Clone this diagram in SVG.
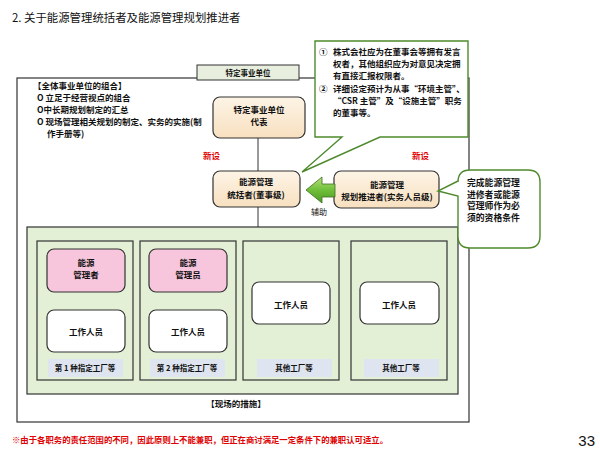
<svg xmlns="http://www.w3.org/2000/svg" width="600" height="450" viewBox="0 0 600 450">
<defs>
<linearGradient id="beige" x1="0" y1="0" x2="0" y2="1">
<stop offset="0" stop-color="#fdf4e6"/><stop offset="1" stop-color="#f8e0c0"/>
</linearGradient>
<linearGradient id="arrowG" x1="0" y1="0" x2="0" y2="1">
<stop offset="0" stop-color="#b6e07a"/><stop offset="0.5" stop-color="#6fbf3a"/><stop offset="1" stop-color="#4c9a25"/>
</linearGradient>
<style>
text{font-family:"Noto Sans CJK SC","Liberation Sans",sans-serif;fill:#111;}
.t{font-size:8.5px;font-weight:bold;}
.c{text-anchor:middle;}
.sm{font-size:7.5px;font-weight:bold;}
.red{fill:#e00000;font-weight:bold;font-size:8.5px;}
.q{font-size:8.8px;font-weight:bold;}
.box{fill:url(#beige);stroke:#333;stroke-width:1.2;}
.pink{fill:#f7c6dd;stroke:#333;stroke-width:1.2;}
.white{fill:#fff;stroke:#333;stroke-width:1.2;}
.panel{fill:#e3f0d6;stroke:#333;stroke-width:1.2;}
.band{fill:#dfe5f0;}
.line{stroke:#333;stroke-width:1;fill:none;}
.call{fill:#fff;stroke:#4e8a2c;stroke-width:1.4;}
</style>
</defs>
<rect width="600" height="450" fill="#fff"/>

<text x="12" y="22" style="font-size:11.4px;">2. 关于能源管理统括者及能源管理规划推进者</text>

<g id="outer">
<rect x="17" y="78" width="452" height="344" fill="#fff" stroke="#333" stroke-width="1.2"/>
</g>

<g id="unit-top">
<rect x="197" y="65" width="102" height="15" fill="#e8efdf" stroke="#333" stroke-width="1"/>
<text x="248" y="76" class="sm c">特定事业单位</text>
</g>

<g id="whole-org">
<text x="33" y="89" class="t">【全体事业单位的组合】</text>
<text x="37" y="101" class="t">O 立足于经营视点的组合</text>
<text x="37" y="113" class="t">O中长期规划制定的汇总</text>
<text x="37" y="125" class="t">O 现场管理相关规划的制定、实务的实施(制</text>
<text x="47" y="137" class="t">作手册等)</text>
</g>

<g id="field-panel">
<rect x="27" y="227" width="431" height="167" class="panel"/>
</g>

<g id="connectors">
<line x1="258" y1="138" x2="258" y2="171" class="line"/>
<line x1="258" y1="207" x2="258" y2="227" class="line"/>
<line x1="86" y1="292" x2="86" y2="310" class="line"/>
<line x1="188" y1="292" x2="188" y2="310" class="line"/>
</g>

<g id="rep">
<rect x="213" y="97" width="92" height="41" rx="7" class="box"/>
<text x="259" y="113" class="t c">特定事业单位</text>
<text x="259" y="125" class="t c">代表</text>
</g>

<g id="new-left"><text x="203" y="159" class="red">新设</text></g>
<g id="new-right"><text x="412" y="159" class="red">新设</text></g>

<g id="supervisor">
<rect x="213" y="171" width="87" height="36" rx="7" class="box"/>
<text x="256" y="185" class="t c">能源管理</text>
<text x="256" y="198" class="t c">统括者(董事级)</text>
</g>

<g id="promoter">
<rect x="334" y="171" width="105" height="37" rx="7" class="box"/>
<text x="387" y="188" class="t c">能源管理</text>
<text x="387" y="200" class="t c">规划推进者(实务人员级)</text>
</g>

<g id="assist-arrow">
<polygon points="306,190 322,177 322,184 335,184 335,197 322,197 322,203" fill="url(#arrowG)" stroke="#3d6e22" stroke-width="0.8"/>
<text x="311" y="215" style="font-size:8px;">辅助</text>
</g>

<g id="callout-main">
<path d="M315,41 H468 V137 H380 L302,172 L342,137 H315 Z" class="call"/>
<text x="319" y="55" class="t">①</text>
<text x="333" y="55" class="t">株式会社应为在董事会等拥有发言</text>
<text x="333" y="67" class="t">权者，其他组织应为对意见决定拥</text>
<text x="333" y="79" class="t">有直接汇报权限者。</text>
<text x="319" y="92" class="t">②</text>
<text x="333" y="92" class="t">详细设定预计为从事“环境主管”、</text>
<text x="333" y="104" class="t">“CSR 主管”及“设施主管”职务</text>
<text x="333" y="116" class="t">的董事等。</text>
</g>

<g id="callout-qual">
<path d="M470,170 H528 Q540,170 540,182 V236 Q540,248 528,248 H470 Q458,248 458,236 V196 L438,191 L458,181 V182 Q458,170 470,170 Z" class="call"/>
<text x="467" y="186" class="q">完成能源管理</text>
<text x="467" y="197.5" class="q">进修者或能源</text>
<text x="467" y="209" class="q">管理师作为必</text>
<text x="467" y="220.5" class="q">须的资格条件</text>
</g>

<g id="plant1">
<rect x="37" y="241" width="96" height="139" class="panel"/>
<rect x="47" y="249" width="78" height="43" rx="7" class="pink"/>
<text x="86" y="266" class="t c">能源</text>
<text x="86" y="278" class="t c">管理者</text>
<rect x="47" y="310" width="78" height="42" rx="7" class="white"/>
<text x="86" y="335" class="t c">工作人员</text>
<rect x="48" y="359" width="75" height="18" class="band"/>
<text x="85" y="371" class="sm c">第 1 种指定工厂等</text>
</g>

<g id="plant2">
<rect x="140" y="241" width="96" height="139" class="panel"/>
<rect x="149" y="249" width="78" height="43" rx="7" class="pink"/>
<text x="188" y="266" class="t c">能源</text>
<text x="188" y="278" class="t c">管理员</text>
<rect x="149" y="310" width="78" height="42" rx="7" class="white"/>
<text x="188" y="335" class="t c">工作人员</text>
<rect x="150" y="359" width="75" height="18" class="band"/>
<text x="187" y="371" class="sm c">第 2 种指定工厂等</text>
</g>

<g id="plant3">
<rect x="243" y="241" width="96" height="139" class="panel"/>
<rect x="252" y="282" width="78" height="42" rx="7" class="white"/>
<text x="291" y="308" class="t c">工作人员</text>
<rect x="257" y="359" width="75" height="18" class="band"/>
<text x="294" y="371" class="sm c">其他工厂等</text>
</g>

<g id="plant4">
<rect x="351" y="241" width="96" height="139" class="panel"/>
<rect x="360" y="282" width="79" height="42" rx="7" class="white"/>
<text x="399" y="308" class="t c">工作人员</text>
<rect x="364" y="359" width="75" height="18" class="band"/>
<text x="401" y="371" class="sm c">其他工厂等</text>
</g>

<g id="field-label"><text x="236" y="407" class="t c">【现场的措施】</text></g>

<text x="12" y="443" class="red" textLength="376" lengthAdjust="spacingAndGlyphs">※由于各职务的责任范围的不同，因此原则上不能兼职，但正在商讨满足一定条件下的兼职认可适立。</text>
<text x="595" y="446" style="font-family:'Liberation Sans',sans-serif;font-size:15px;text-anchor:end;">33</text>
</svg>
